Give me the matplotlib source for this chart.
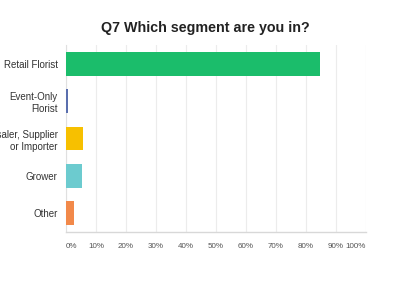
import matplotlib
matplotlib.use("Agg")
import matplotlib.pyplot as plt
from matplotlib.ticker import FuncFormatter

categories = ["Retail Florist", "Event-Only\nFlorist", "Wholesaler, Supplier\nor Importer", "Grower", "Other"]
values = [84.7, 0.5, 5.5, 5.4, 2.8]
colors = ["#1bbd6b", "#5a6fae", "#f7c000", "#6ccbcf", "#f2894a"]
xticks = [0, 10, 20, 30, 40, 50, 60, 70, 80, 90, 100]

plt.rcParams['font.family'] = ['Liberation Sans', 'DejaVu Sans']

fig = plt.figure(figsize=(4.0, 2.84), dpi=100)
ax = fig.add_axes([66/400, 1-232/284, 300/400, (232-45)/284])

ypos = list(range(len(categories)))
ax.barh(ypos, values, height=0.64, color=colors, zorder=3)
ax.set_ylim(len(categories)-0.5, -0.5)
ax.set_xlim(0, 100)
ax.set_yticks(ypos)
ax.set_yticklabels(categories, fontsize=7, color="#333333", linespacing=1.25)
ax.set_xticks(xticks)
ax.xaxis.set_major_formatter(FuncFormatter(lambda v, p: f"{int(v)}%"))
ax.tick_params(axis="x", labelsize=5.8, colors="#555555", length=0, pad=8)
ax.tick_params(axis="y", length=0, pad=6)
xl = ax.get_xticklabels()
xl[0].set_horizontalalignment("left")
xl[-1].set_horizontalalignment("right")
ax.grid(axis="x", color="#ececec", linewidth=0.8, zorder=0)
for s in ["top", "right"]:
    ax.spines[s].set_visible(False)
ax.spines["left"].set_color("#e0e0e0")
ax.spines["left"].set_linewidth(0.8)
ax.spines["bottom"].set_color("#d8d8d8")
ax.spines["bottom"].set_linewidth(1.0)

fig.text(205/400, 1-28/284, "Q7 Which segment are you in?", ha="center", va="center",
         fontsize=10.3, fontweight="bold", color="#222222")

fig.savefig("out.png", dpi=100)
